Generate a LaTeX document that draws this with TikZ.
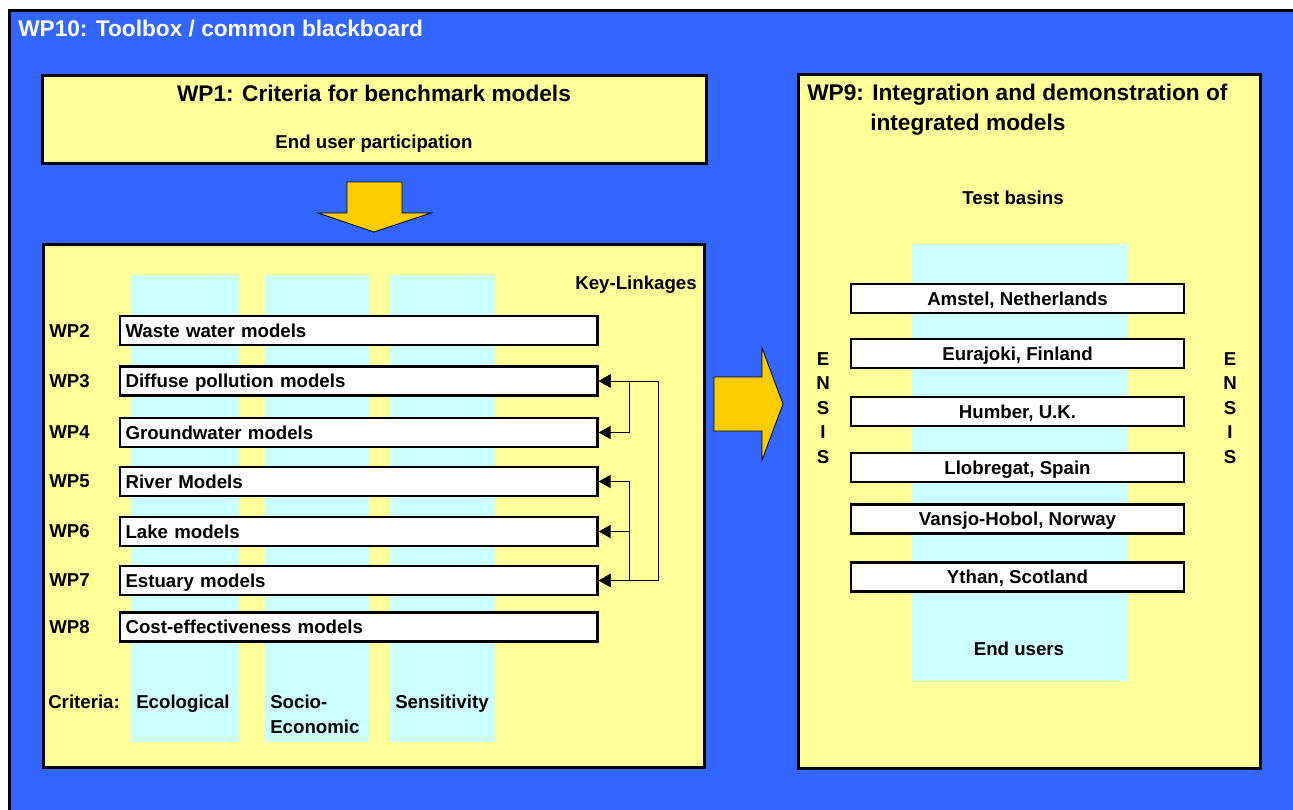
\documentclass[tikz,border=0pt]{standalone}
\usepackage{fontspec}
\setmainfont{Liberation Sans}
\usetikzlibrary{arrows.meta}
\definecolor{wpblue}{HTML}{3366FF}
\definecolor{wpyellow}{HTML}{FFFF99}
\definecolor{wpcyan}{HTML}{CCFFFF}
\definecolor{wporange}{HTML}{FFCC00}
\tikzset{
  frame/.style={draw=black, fill=wpyellow, line width=2.25pt},
  column/.style={fill=wpcyan},
  lbl/.style={font=\fontsize{14}{16}\selectfont\bfseries, inner sep=0pt},
  ttl/.style={font=\fontsize{17}{20}\selectfont\bfseries, inner sep=0pt},
  modelbox/.style={lbl, draw, fill=white, line width=1.8pt, minimum height=21.75pt,
    text height=10pt, text depth=0pt, inner xsep=4pt, text width=350pt, align=left, anchor=west},
  basinbox/.style={lbl, draw, fill=white, line width=1.8pt, minimum height=21.75pt,
    minimum width=249.75pt, text height=10pt, text depth=0pt},
  bigarrow/.style={fill=wporange, draw=black, line width=0.6pt},
  link/.style={line width=0.75pt, >={Triangle[length=9pt,width=10pt]}},
}
\begin{document}
\begin{tikzpicture}[x=0.75pt,y=-0.75pt]
  \useasboundingbox[fill=white] (0,0) rectangle (1293,810);
  % WP10 background
  \draw[fill=wpblue, line width=2.25pt] (9,10) rectangle (1310,830);
  \node[ttl, white, anchor=base west] (wp10) at (18,36.7) {WP10: Toolbox / common blackboard};

  % WP1
  \draw[frame] (42,75) rectangle (706,163);
  \node[ttl, anchor=base] (wp1) at (374,101.7) {WP1: Criteria for benchmark models};
  \node[lbl, anchor=base] (participation) at (374,148.3) {End user participation};
  \draw[bigarrow] (347,182) -- (402,182) -- (402,213) -- (431,213) -- (374,232)
    -- (318,213) -- (347,213) -- cycle;

  % models
  \draw[frame] (43,244) rectangle (704,767);
  \fill[column] (131,275) rectangle (239,742);
  \fill[column] (265,275) rectangle (369,742);
  \fill[column] (390,275) rectangle (495,742);
  \node[lbl, anchor=base east] (keylink) at (697,289) {Key-Linkages};
  \foreach \n/\y/\t in {2/330.5/Waste water models, 3/381/Diffuse pollution models,
      4/432.5/Groundwater models, 5/481.5/River Models, 6/531.5/Lake models,
      7/580.5/Estuary models, 8/627/Cost-effectiveness models} {
    \node[lbl, anchor=west] (lwp\n) at (49,\y) {WP\n};
    \node[modelbox] (wp\n) at (119,\y) {\t};
  }

  % key linkages
  \coordinate (barA) at (629,0);
  \coordinate (barB) at (658,0);
  \draw[link,<->] (wp3.east) -| (barB |- wp7.east) -- (wp7.east);
  \draw[link,<->] (wp3.east) -| (barA |- wp4.east) -- (wp4.east);
  \draw[link,<->] (wp5.east) -| (barA |- wp7.east) -- (wp7.east);
  \draw[link,->] (barA |- wp6.east) -- (wp6.east);

  % criteria
  \node[lbl, anchor=base west] (criteria) at (48,708) {Criteria:};
  \node[lbl, anchor=base west] (ecol) at (136,708) {Ecological};
  \node[lbl, anchor=base west] (socio) at (270,708) {Socio-};
  \node[lbl, anchor=base west] (econ) at (270,733) {Economic};
  \node[lbl, anchor=base west] (sens) at (395,708) {Sensitivity};

  \draw[bigarrow] (714,377) -- (762,377) -- (762,348) -- (783,404) -- (762,460)
    -- (762,431) -- (714,431) -- cycle;

  % WP9
  \draw[frame] (798,74) rectangle (1260,768);
  \node[ttl, anchor=base west] (wp9) at (807,100.7) {WP9: Integration and demonstration of};
  \node[ttl, anchor=base west] (wp9b) at (870,130.7) {integrated models};
  \node[lbl, anchor=base] (basins) at (1013,204) {Test basins};
  \fill[column] (912,244) rectangle (1128,681);
  \foreach \n/\y/\t in {1/298.5/{Amstel, Netherlands}, 2/353.5/{Eurajoki, Finland},
      3/411.5/{Humber, U.K.}, 4/467.5/{Llobregat, Spain},
      5/519/{Vansjo-Hobol, Norway}, 6/577/{Ythan, Scotland}} {
    \node[basinbox] (basin\n) at (1017.5,\y) {\t};
  }
  \foreach \c [count=\i] in {E,N,S,I,S} {
    \node[lbl, anchor=base] (ensisl\i) at (823,340.5+24.5*\i) {\c};
    \node[lbl, anchor=base] (ensisr\i) at (1230,340.5+24.5*\i) {\c};
  }
  \node[lbl, anchor=base] (endusers) at (1019,655) {End users};
\end{tikzpicture}
\end{document}
